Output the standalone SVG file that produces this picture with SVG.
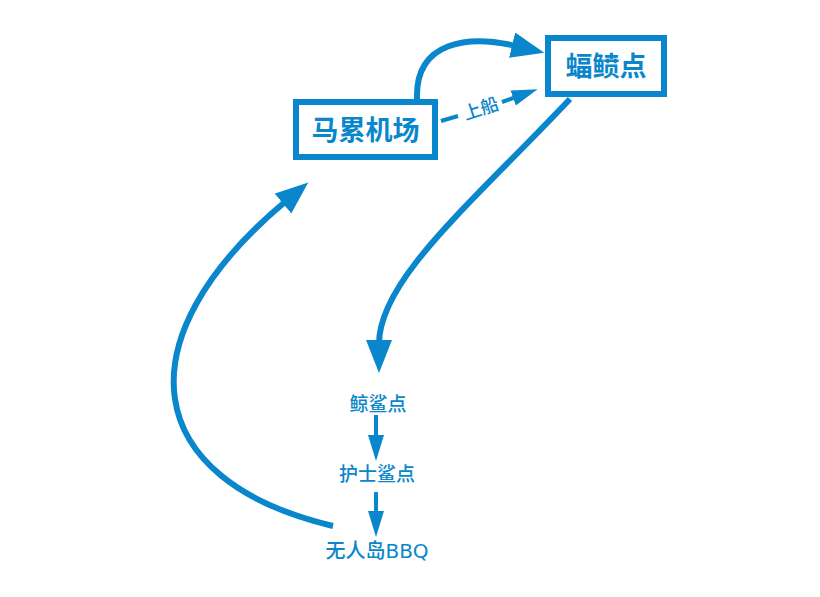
<svg xmlns="http://www.w3.org/2000/svg" width="820" height="597" viewBox="0 0 820 597">
<style>
.box{fill:#fff;stroke:#0a87cc;stroke-width:6}
.big{font-family:"Noto Sans CJK SC","Noto Sans",sans-serif;font-weight:bold;font-size:27px;fill:#0a87cc;text-anchor:middle}
.lbl{font-family:"Noto Sans CJK SC","Noto Sans",sans-serif;font-weight:500;font-size:19px;fill:#0a87cc;text-anchor:middle}
.lat{font-family:"DejaVu Sans","Noto Sans",sans-serif;font-weight:normal}
.c{fill:none;stroke:#0a87cc;stroke-width:6}
.s{fill:none;stroke:#0a87cc;stroke-width:4}
</style>
<defs>
<marker id="hb" markerUnits="userSpaceOnUse" markerWidth="40" markerHeight="30" refX="4" refY="13" orient="auto" viewBox="0 0 40 30"><path d="M0,0 L33,13 L0,26 z" fill="#0a87cc"/></marker>
<marker id="hs" markerUnits="userSpaceOnUse" markerWidth="30" markerHeight="20" refX="3" refY="8" orient="auto" viewBox="0 0 30 20"><path d="M0,0 L26,8 L0,16 z" fill="#0a87cc"/></marker>
</defs>
<rect width="820" height="597" fill="#fff"/>
<g id="connectors">
<path class="c" d="M417,99 C415,40 470,35 516,46" marker-end="url(#hb)"/>
<path class="s" d="M441,121 L458,116"/>
<path class="s" d="M502,102 L516,97" marker-end="url(#hs)"/>
<text class="lbl" x="481" y="115" transform="rotate(-18 481 109)" style="font-size:18px">上船</text>
<path class="c" d="M570,99 C470,205 379,280 379,344" marker-end="url(#hb)"/>
<path class="s" d="M376,415 L376,438" marker-end="url(#hs)"/>
<path class="s" d="M376,492 L376,514" marker-end="url(#hs)"/>
<path class="c" d="M333,526 C140,480 120,340 286,201" marker-end="url(#hb)"/>
</g>
<g id="n1"><rect class="box" x="296" y="102" width="139" height="55"/><text class="big" x="365.5" y="140">马累机场</text></g>
<g id="n2"><rect class="box" x="548" y="38" width="116" height="56"/><text class="big" x="606" y="76">蝠鲼点</text></g>
<g id="n3"><text class="lbl" x="378" y="411">鲸鲨点</text></g>
<g id="n4"><text class="lbl" x="377" y="481">护士鲨点</text></g>
<g id="n5"><text class="lbl" x="377" y="558" style="font-size:20px">无人岛<tspan class="lat">BBQ</tspan></text></g>
</svg>
